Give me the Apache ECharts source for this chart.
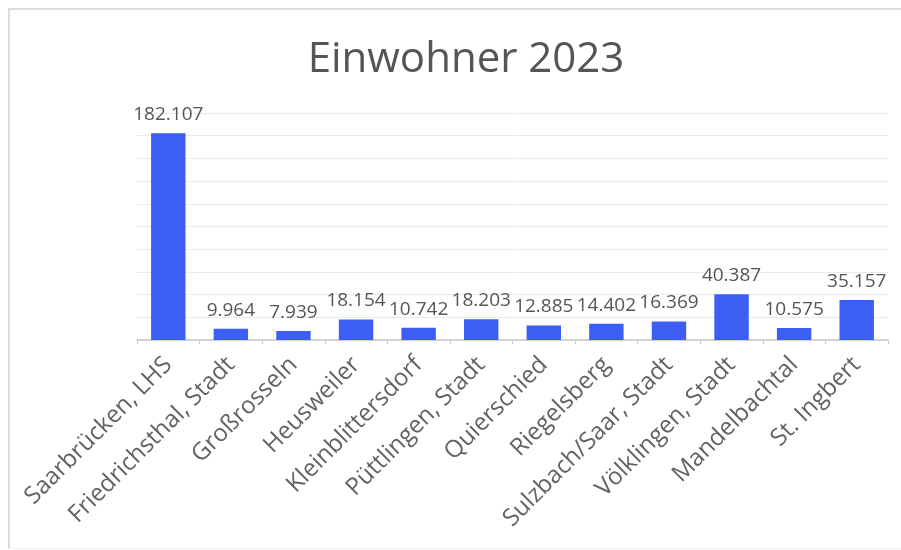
<!DOCTYPE html>
<html>
<head>
<meta charset="utf-8">
<script src="https://cdn.jsdelivr.net/npm/echarts@6/dist/echarts.min.js"></script>
<style>
html,body{margin:0;padding:0;background:#fff;}
#frame{position:absolute;left:8px;top:8px;width:893px;height:541px;border-left:2px solid #dcdcdc;border-top:2px solid #dcdcdc;border-bottom:1px solid #f0f0f0;box-sizing:border-box;}
#chart{position:absolute;left:0;top:0;width:901px;height:550px;}
</style>
</head>
<body>
<div id="frame"></div>
<div id="chart"></div>
<script>
const categories = ["Saarbrücken, LHS","Friedrichsthal, Stadt","Großrosseln","Heusweiler","Kleinblittersdorf","Püttlingen, Stadt","Quierschied","Riegelsberg","Sulzbach/Saar, Stadt","Völklingen, Stadt","Mandelbachtal","St. Ingbert"];
const values = [182107, 9964, 7939, 18154, 10742, 18203, 12885, 14402, 16369, 40387, 10575, 35157];
const titleText = "Einwohner 2023";

const fmt = v => String(v).replace(/\B(?=(\d{3})+(?!\d))/g, ".");
const chart = echarts.init(document.getElementById('chart'), null, {renderer:'canvas'});
chart.setOption({
  backgroundColor: 'transparent',
  animation: false,
  textStyle: {fontFamily: 'Open Sans'},
  title: {
    text: titleText, left: 461, top: 34, textAlign: 'center',
    textStyle: {fontFamily: 'Open Sans', fontSize: 42, fontWeight: 'normal', color: '#555'}
  },
  grid: {left: 137, right: 13, top: 113, bottom: 210},
  xAxis: {
    type: 'category', data: categories,
    axisLine: {lineStyle: {color: '#c8c8c8', width: 1.5}},
    axisTick: {show: true, length: 4, lineStyle: {color: '#c8c8c8'}},
    axisLabel: {rotate: 45, interval: 0, fontSize: 24, color: '#626262', margin: 21, fontFamily: 'Open Sans'}
  },
  yAxis: {
    type: 'value', min: 0, max: 200000, interval: 20000,
    axisLabel: {show: false}, axisLine: {show: false}, axisTick: {show: false},
    splitLine: {lineStyle: {color: '#eaeaea'}}
  },
  series: [{
    type: 'bar', data: values, barWidth: '55%',
    itemStyle: {color: '#3d5ef5'},
    label: {show: true, position: 'top', distance: 9, fontSize: 19, color: '#555', fontFamily: 'Open Sans', formatter: p => fmt(p.value)}
  }]
});
</script>
</body>
</html>
